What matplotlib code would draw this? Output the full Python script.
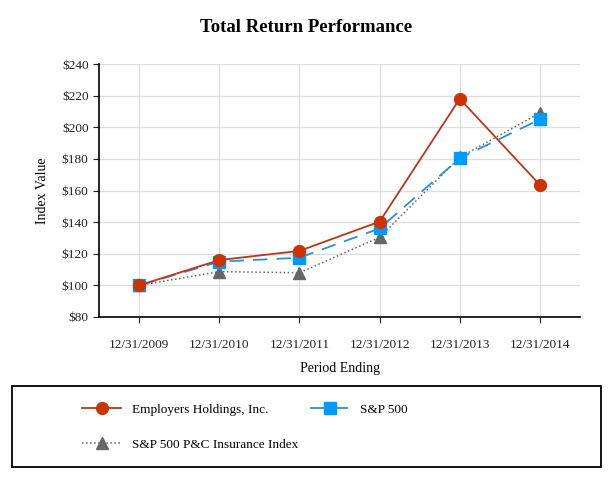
import matplotlib.pyplot as plt
from matplotlib.patches import Rectangle

plt.rcParams['font.family'] = ['Liberation Serif', 'DejaVu Serif']

# Data
periods = ['12/31/2009', '12/31/2010', '12/31/2011', '12/31/2012', '12/31/2013', '12/31/2014']
employers = [100, 116, 121.8, 140.3, 218, 163.5]
sp500 = [100, 115, 117.5, 136, 180.4, 205]
pc_index = [100, 108.7, 108, 130.4, 181, 209]
yticks = [80, 100, 120, 140, 160, 180, 200, 220, 240]

fig = plt.figure(figsize=(6.13, 4.8), dpi=100)
ax = fig.add_axes([99 / 613, 1 - 317 / 480, 481 / 613, 253 / 480])

x = list(range(len(periods)))
l1, = ax.plot(x, employers, '-o', color='#B8361A', markerfacecolor='#CC3300',
              markeredgecolor='#CC3300', markersize=8.5, lw=1.3,
              label='Employers Holdings, Inc.', zorder=4)
l2, = ax.plot(x, sp500, '-s', color='#2B8FD8', markerfacecolor='#0099FF',
              markeredgecolor='#0099FF', markersize=8.5, lw=1.3,
              dashes=(8, 5), label='S&P 500', zorder=3)
l3, = ax.plot(x, pc_index, '^', ls=':', color='#666666', markersize=8, lw=1.1,
              label='S&P 500 P&C Insurance Index', zorder=2)

ax.set_xlim(-0.5, 5.5)
ax.set_ylim(80, 240)
ax.set_xticks(x)
ax.set_xticklabels(periods)
ax.set_yticks(yticks)
ax.set_yticklabels(['$%d' % v for v in yticks])
ax.tick_params(axis='both', labelsize=9.5, colors='#222222', length=4, width=0.8)
ax.tick_params(axis='x', pad=12)
ax.grid(True, color='#DDDDDD', lw=0.9)
ax.set_axisbelow(True)
for s in ['top', 'right']:
    ax.spines[s].set_visible(False)
ax.spines['left'].set_linewidth(1.2)
ax.spines['bottom'].set_linewidth(1.2)

ax.set_xlabel('Period Ending', fontsize=10, labelpad=8)
ax.set_ylabel('Index Value', fontsize=10, labelpad=9)
fig.text(0.5, 1 - 27 / 480, 'Total Return Performance', ha='center', va='center',
         fontsize=13.5, fontweight='bold')

# legend box
fig.patches.append(Rectangle((12 / 613, 1 - 467 / 480), 589 / 613, 81 / 480,
                             transform=fig.transFigure, fill=False,
                             edgecolor='black', lw=1.3))
fig.legend(handles=[l1, l3, l2], ncol=2, frameon=False, fontsize=9.5,
           loc='upper left', bbox_to_anchor=(70 / 613, 1 - 392 / 480),
           handlelength=3.0, handletextpad=0.8, columnspacing=0.9,
           labelspacing=1.7)

fig.savefig('out.png', dpi=100)
